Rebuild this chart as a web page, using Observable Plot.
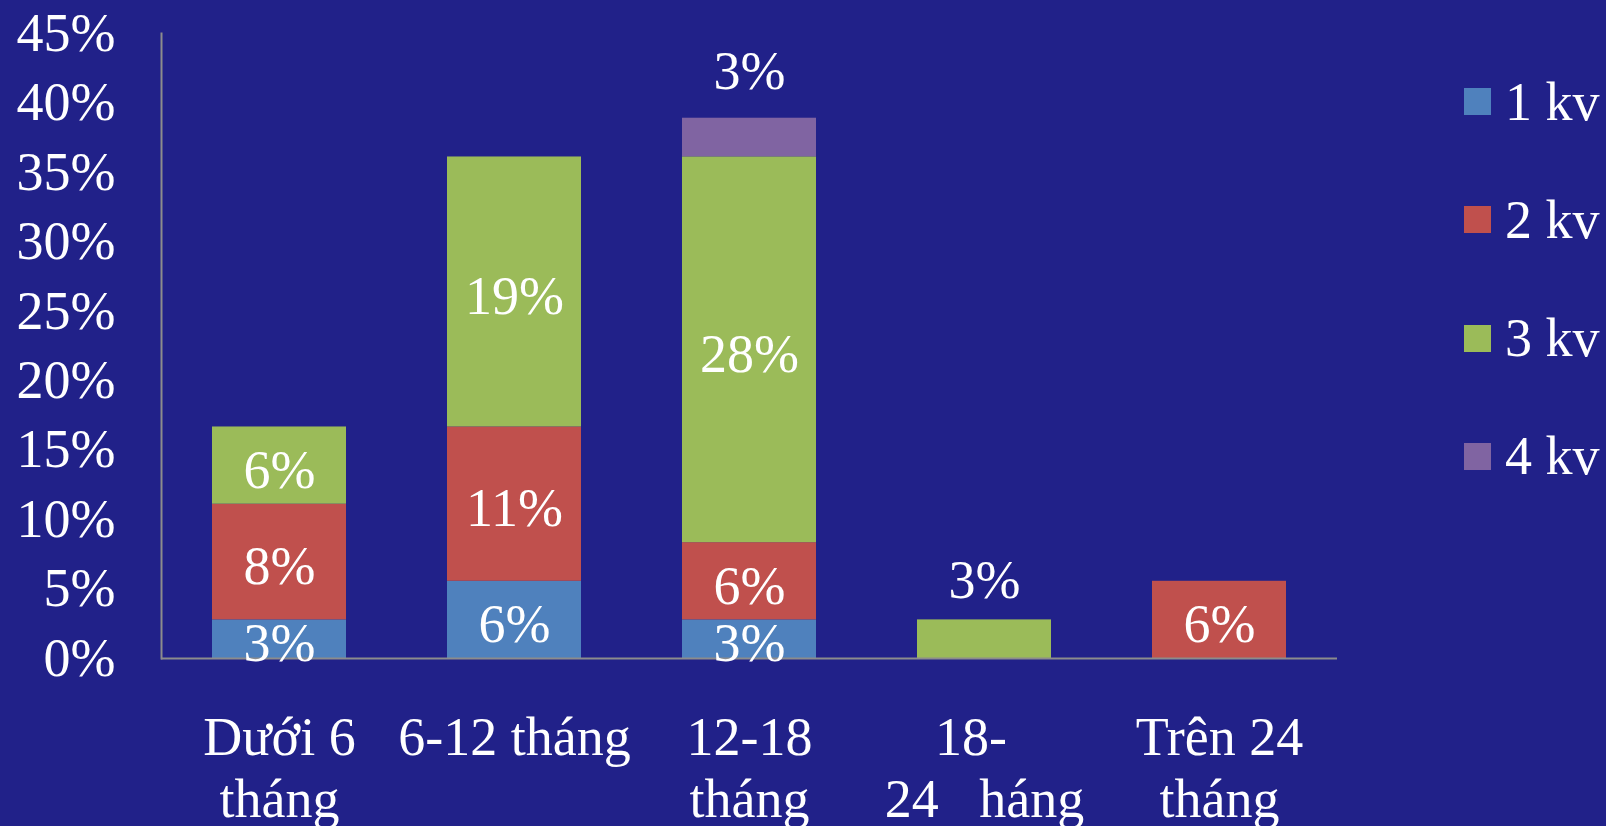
<!DOCTYPE html>
<html>
<head>
<meta charset="utf-8">
<script src="https://cdn.jsdelivr.net/npm/d3@7"></script>
<script src="https://cdn.jsdelivr.net/npm/@observablehq/plot@0.6"></script>
<style>
  html, body { margin: 0; padding: 0; background: #212189; overflow: hidden; }
  #wrap { position: relative; width: 1606px; height: 826px; font-family: "Liberation Serif", "Times New Roman", serif; }
  .leg { position: absolute; display: flex; align-items: center; color: white; font-size: 54px; line-height: 1; white-space: nowrap; }
  .sw { width: 27px; height: 27px; margin-right: 14px; }
</style>
</head>
<body>
<div id="wrap"></div>
<script>
// ---- data ----
const categories = ["Dưới 6 tháng", "6-12 tháng", "12-18 tháng", "18-24 tháng", "Trên 24 tháng"];
const xLabels = ["Dưới 6\ntháng", "6-12 tháng", "12-18\ntháng", "18-  \n24   háng", "Trên 24\ntháng"];
const series = ["1 kv", "2 kv", "3 kv", "4 kv"];
const kv1 = [2.78, 5.56, 2.78, 0, 0];
const kv2 = [8.33, 11.11, 5.56, 0, 5.56];
const kv3 = [5.56, 19.44, 27.78, 2.78, 0];
const kv4 = [0, 0, 2.78, 0, 0];
const colors = ["#4F81BD", "#C0504D", "#9BBB59", "#8064A2"];
const yTicks = [0, 5, 10, 15, 20, 25, 30, 35, 40, 45];

// ---- build rows ----
const seriesValues = [kv1, kv2, kv3, kv4];
const rows = [];
categories.forEach((c, ci) => {
  let lastIdx = -1;
  seriesValues.forEach((vals, si) => { if (vals[ci] > 0) lastIdx = si; });
  seriesValues.forEach((vals, si) => {
    const v = vals[ci];
    if (v > 0) rows.push({cat: c, series: series[si], value: v, label: Math.round(v) + "%", outside: si === lastIdx && v < 3, stackIdx: si});
  });
});

const axisColor = "#8c8c8c";
const chart = Plot.plot({
  width: 1606,
  height: 826,
  marginLeft: 161,
  marginRight: 269,
  marginTop: 33,
  marginBottom: 168,
  style: {background: "transparent", fontFamily: "'Liberation Serif', 'Times New Roman', serif", color: "white", overflow: "visible"},
  x: {domain: categories, paddingInner: 0.43, paddingOuter: 0.215, label: null},
  y: {domain: [0, 45], label: null},
  color: {domain: series, range: colors},
  marks: [
    Plot.barY(rows, {x: "cat", y: "value", fill: "series", order: series}),
    Plot.axisY({ticks: yTicks, tickSize: 0, tickPadding: 46, tickFormat: d => d + "%", fontSize: 54, fill: "white", label: null}),
    Plot.axisX({tickSize: 0, tickPadding: 53, tickFormat: d => xLabels[categories.indexOf(d)], fontSize: 54, lineHeight: 1.14, fill: "white", label: null}),
    Plot.ruleY([0], {stroke: axisColor, strokeWidth: 2}),
    Plot.frame({anchor: "left", stroke: axisColor, strokeWidth: 2}),
    Plot.text(rows, Plot.stackY({x: "cat", y: "value", z: "series", order: series, text: d => d.outside ? "" : d.label, fill: "white", fontSize: 54, dy: 5})),
    Plot.text(rows, Plot.stackY2({x: "cat", y: "value", z: "series", order: series, text: d => d.outside && d.stackIdx === 3 ? d.label : "", fill: "white", fontSize: 54, dy: -47})),
    Plot.text(rows, Plot.stackY2({x: "cat", y: "value", z: "series", order: series, text: d => d.outside && d.stackIdx !== 3 ? d.label : "", fill: "white", fontSize: 54, dy: -39}))
  ]
});

const wrap = document.getElementById("wrap");
wrap.appendChild(chart);

// legend
series.forEach((s, i) => {
  const item = document.createElement("div");
  item.className = "leg";
  item.style.left = "1464px";
  item.style.top = (101.5 + i * 118.3 - 30) + "px";
  item.style.height = "60px";
  const sw = document.createElement("div");
  sw.className = "sw";
  sw.style.background = colors[i];
  const t = document.createElement("span");
  t.textContent = s;
  item.appendChild(sw);
  item.appendChild(t);
  wrap.appendChild(item);
});
</script>
</body>
</html>
